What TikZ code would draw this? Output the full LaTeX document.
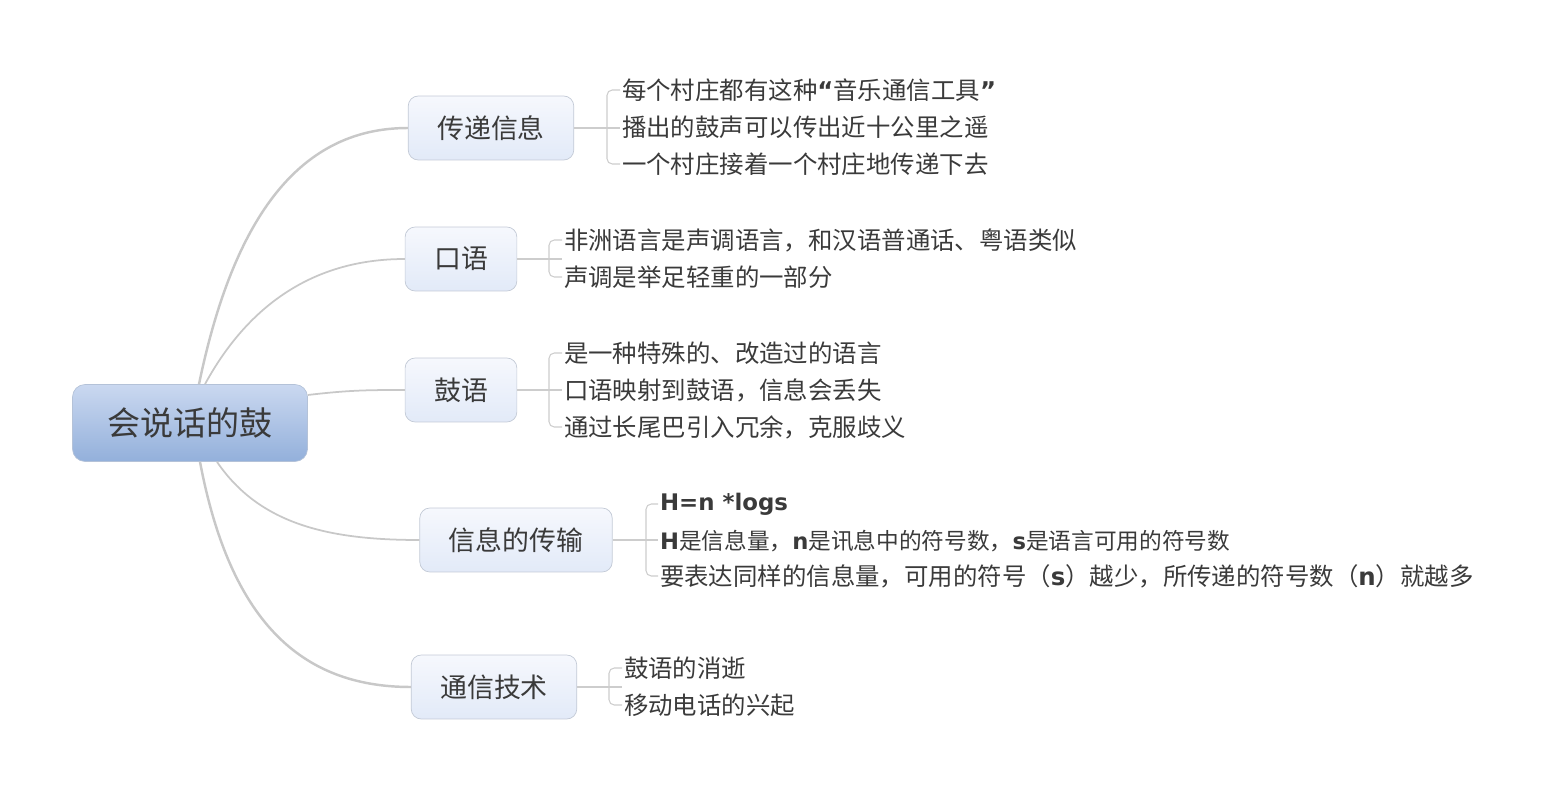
\documentclass[tikz,border=0pt]{standalone}
\usepackage{fontspec}
\setmainfont{Noto Sans CJK SC}
\newfontfamily\vb{DejaVu Sans}
\usetikzlibrary{calc}
\definecolor{ink}{HTML}{3A3A3A}
\definecolor{linec}{HTML}{C8C8C8}
\definecolor{twigc}{HTML}{CDCDCD}
\definecolor{rimc}{HTML}{B4C2D8}
\definecolor{topc}{HTML}{CAD8F0}
\definecolor{botc}{HTML}{93B0DB}
\definecolor{rimb}{HTML}{C3CAD6}
\definecolor{topb}{HTML}{F6F8FD}
\definecolor{botb}{HTML}{E2EAF8}
\newcommand\bl[1]{{\vb\bfseries #1}}

\begin{document}
\begin{tikzpicture}[x=0.02cm,y=-0.02cm,
  root/.style={draw=rimc,rounded corners=0.25cm,top color=topc,bottom color=botc,minimum width=4.7cm,minimum height=1.54cm,font=\fontsize{18.8}{22}\selectfont,text=ink},
  topic/.style={draw=rimb,rounded corners=0.2cm,top color=topb,bottom color=botb,minimum height=1.28cm,inner xsep=0.58cm,font=\fontsize{15.3}{18}\selectfont,text=ink},
  leaf/.style={anchor=west,inner sep=1pt,font=\fontsize{13.9}{16}\selectfont,text=ink},
  wire/.style={draw=linec,line width=1pt},
  twig/.style={draw=twigc,line width=0.6pt,rounded corners=3pt}]
\useasboundingbox (0,0) rectangle (1555,797);
\node[root] (drum) at (190,423) {会说话的鼓};
\node[topic] (relay) at (491,128) {传递信息};
\node[topic] (speech) at (461,259) {口语};
\node[topic] (talk) at (461,390) {鼓语};
\node[topic] (info) at (516,540) {信息的传输};
\node[topic] (tech) at (494,687) {通信技术};
\draw[wire,line width=1.4pt] ($(drum.north)+(9,0)$) .. controls (232,225) and (295,128) .. (relay.west);
\draw[wire] ($(drum.north)+(15,0)$) .. controls (240,320) and (300,259) .. (speech.west);
\draw[wire] ($(drum.east)+(0,-28)$) .. controls (350,390) and (370,390) .. (talk.west);
\draw[wire] ($(drum.south)+(27,0)$) .. controls (260,525) and (330,540) .. (info.west);
\draw[wire,line width=1.4pt] ($(drum.south)+(10,0)$) .. controls (230,620) and (300,687) .. (tech.west);
\node[leaf] (r1) at (620,90) {每个村庄都有这种\bl{“}音乐通信工具\bl{”}};
\node[leaf] (r2) at (620,127) {播出的鼓声可以传出近十公里之遥};
\node[leaf] (r3) at (620,164) {一个村庄接着一个村庄地传递下去};
\node[leaf] (s1) at (562,240) {非洲语言是声调语言，和汉语普通话、粤语类似};
\node[leaf] (s2) at (562,277) {声调是举足轻重的一部分};
\node[leaf] (t1) at (562,353) {是一种特殊的、改造过的语言};
\node[leaf] (t2) at (562,390) {口语映射到鼓语，信息会丢失};
\node[leaf] (t3) at (562,427) {通过长尾巴引入冗余，克服歧义};
\node[leaf,font=\fontsize{13}{16}\selectfont] (i1) at (658,504) {\bl{H=n *logs}};
\node[leaf,font=\fontsize{12.9}{16}\selectfont] (i2) at (658,541) {\bl{H}是信息量，\bl{n}是讯息中的符号数，\bl{s}是语言可用的符号数};
\node[leaf] (i3) at (658,576) {要表达同样的信息量，可用的符号（\bl{s}）越少，所传递的符号数（\bl{n}）就越多};
\node[leaf] (e1) at (622,668) {鼓语的消逝};
\node[leaf] (e2) at (622,705) {移动电话的兴起};
\draw[twig] (relay.east) -- (relay.east -| r1.west);
\draw[twig] (r1.west) -- ++(-13,0) |- (r3.west);
\draw[twig] (speech.east) -- (speech.east -| s1.west);
\draw[twig] (s1.west) -- ++(-13,0) |- (s2.west);
\draw[twig] (talk.east) -- (talk.east -| t1.west);
\draw[twig] (t1.west) -- ++(-13,0) |- (t3.west);
\draw[twig] (info.east) -- (info.east -| i1.west);
\draw[twig] (i1.west) -- ++(-12,0) |- (i3.west);
\draw[twig] (tech.east) -- (tech.east -| e1.west);
\draw[twig] (e1.west) -- ++(-13,0) |- (e2.west);
\end{tikzpicture}
\end{document}
